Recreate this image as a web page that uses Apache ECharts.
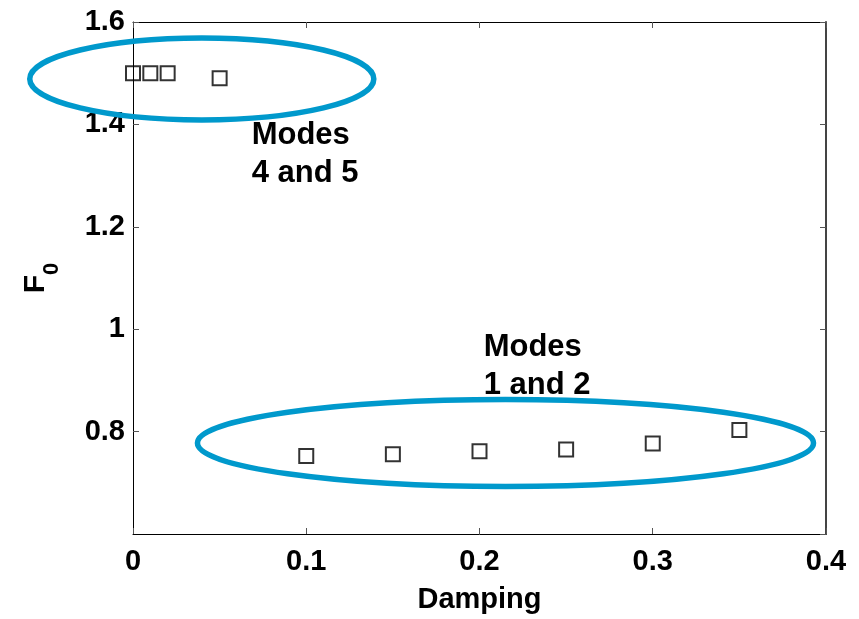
<!DOCTYPE html>
<html>
<head>
<meta charset="utf-8">
<script src="https://cdn.jsdelivr.net/npm/echarts@6/dist/echarts.min.js"></script>
<style>
html,body{margin:0;padding:0;background:#fff;}
#chart{width:859px;height:619px;}
</style>
</head>
<body>
<div id="chart"></div>
<script>
// ---- data ----
const xTicks = [0, 0.1, 0.2, 0.3, 0.4];
const yTicks = [0.6, 0.8, 1, 1.2, 1.4, 1.6];
const modes45Damping = [0, 0.01, 0.02, 0.05];
const modes45F0 = [1.5, 1.5, 1.5, 1.49];
const modes12Damping = [0.1, 0.15, 0.2, 0.25, 0.3, 0.35];
const modes12F0 = [0.7525, 0.756, 0.7616, 0.765, 0.7766, 0.8033];
// ellipses: [centerDamping, centerF0, radiusDamping, radiusF0]
const ellipse45 = [0.0397, 1.4888, 0.0993, 0.08];
const ellipse12 = [0.215, 0.7776, 0.1778, 0.0849];
// annotation labels: [damping, F0, text]
const labelModes45 = [0.0685, 1.4156, 'Modes\n4 and 5'];
const labelModes12 = [0.2024, 1.002, 'Modes\n1 and 2'];

const FONT = '"Liberation Sans", Arial, sans-serif';
const chart = echarts.init(document.getElementById('chart'), null, {renderer: 'canvas'});

const zip = (a, b) => a.map((v, i) => [v, b[i]]);

const tickStyle = {show: true, inside: true, length: 6, lineStyle: {color: '#555', width: 1}};

chart.setOption({
  animation: false,
  backgroundColor: '#fff',
  grid: {left: 133, top: 22, right: 33, bottom: 84, containLabel: false},
  xAxis: [{
    type: 'value', min: xTicks[0], max: xTicks[xTicks.length - 1], interval: 0.1,
    position: 'bottom',
    name: 'Damping', nameLocation: 'middle', nameGap: 51,
    nameTextStyle: {fontFamily: FONT, fontSize: 29, fontWeight: 'bold', color: '#000', lineHeight: 29},
    axisLine: {show: true, onZero: false, lineStyle: {color: '#000', width: 1}},
    axisTick: tickStyle,
    axisLabel: {margin: 13, fontFamily: FONT, fontSize: 29, fontWeight: 'bold', color: '#000', lineHeight: 29},
    splitLine: {show: false}
  }, {
    type: 'value', min: xTicks[0], max: xTicks[xTicks.length - 1], interval: 0.1,
    position: 'top',
    axisLine: {show: true, onZero: false, lineStyle: {color: '#000', width: 1}},
    axisTick: tickStyle,
    axisLabel: {show: false},
    splitLine: {show: false}
  }],
  yAxis: [{
    type: 'value', min: yTicks[0], max: yTicks[yTicks.length - 1], interval: 0.2,
    position: 'left',
    name: '{f|F}{s|0}', nameLocation: 'middle', nameGap: 82,
    nameTextStyle: {
      rich: {
        f: {fontFamily: FONT, fontSize: 30, fontWeight: 'bold', color: '#000', lineHeight: 30, verticalAlign: 'top'},
        s: {fontFamily: FONT, fontSize: 22, fontWeight: 'bold', color: '#000', lineHeight: 22, verticalAlign: 'top', padding: [20, 0, 0, 0]}
      }
    },
    axisLine: {show: true, onZero: false, lineStyle: {color: '#000', width: 1}},
    axisTick: tickStyle,
    axisLabel: {
      margin: 8, fontFamily: FONT, fontSize: 29, fontWeight: 'bold', color: '#000',
      showMinLabel: false,
      formatter: v => String(Math.round(v * 10) / 10)
    },
    splitLine: {show: false}
  }, {
    type: 'value', min: yTicks[0], max: yTicks[yTicks.length - 1], interval: 0.2,
    position: 'right',
    axisLine: {show: true, onZero: false, lineStyle: {color: '#444', width: 2}},
    axisTick: tickStyle,
    axisLabel: {show: false},
    splitLine: {show: false}
  }],
  series: [{
    type: 'custom',
    name: 'ellipses',
    xAxisIndex: 0, yAxisIndex: 0,
    clip: false,
    silent: true,
    z: 1,
    data: [ellipse45, ellipse12],
    renderItem: function (params, api) {
      const c = api.coord([api.value(0), api.value(1)]);
      const s = api.size([api.value(2), api.value(3)]);
      return {
        type: 'ellipse',
        shape: {cx: c[0], cy: c[1], rx: s[0], ry: s[1]},
        style: {fill: 'none', stroke: '#0099CC', lineWidth: 5.5}
      };
    }
  }, {
    type: 'custom',
    name: 'labels',
    xAxisIndex: 0, yAxisIndex: 0,
    clip: false,
    silent: true,
    z: 2,
    data: [labelModes45, labelModes12],
    dimensions: ['x', 'y', {name: 'text', type: 'ordinal'}],
    renderItem: function (params, api) {
      const item = [labelModes45, labelModes12][params.dataIndex];
      const c = api.coord([item[0], item[1]]);
      return {
        type: 'text',
        x: c[0], y: c[1],
        style: {
          text: item[2], fontFamily: FONT, fontSize: 31, fontWeight: 'bold',
          fill: '#000', lineHeight: 38, align: 'left', verticalAlign: 'top'
        }
      };
    }
  }, {
    type: 'scatter',
    name: 'Modes 4 and 5',
    xAxisIndex: 0, yAxisIndex: 0,
    symbol: 'rect', symbolSize: 14,
    itemStyle: {color: 'rgba(255,255,255,0)', borderColor: '#000', borderWidth: 2},
    data: zip(modes45Damping, modes45F0),
    z: 3
  }, {
    type: 'scatter',
    name: 'Modes 1 and 2',
    xAxisIndex: 0, yAxisIndex: 0,
    symbol: 'rect', symbolSize: 14,
    itemStyle: {color: 'rgba(255,255,255,0)', borderColor: '#000', borderWidth: 2},
    data: zip(modes12Damping, modes12F0),
    z: 3
  }]
});
</script>
</body>
</html>
